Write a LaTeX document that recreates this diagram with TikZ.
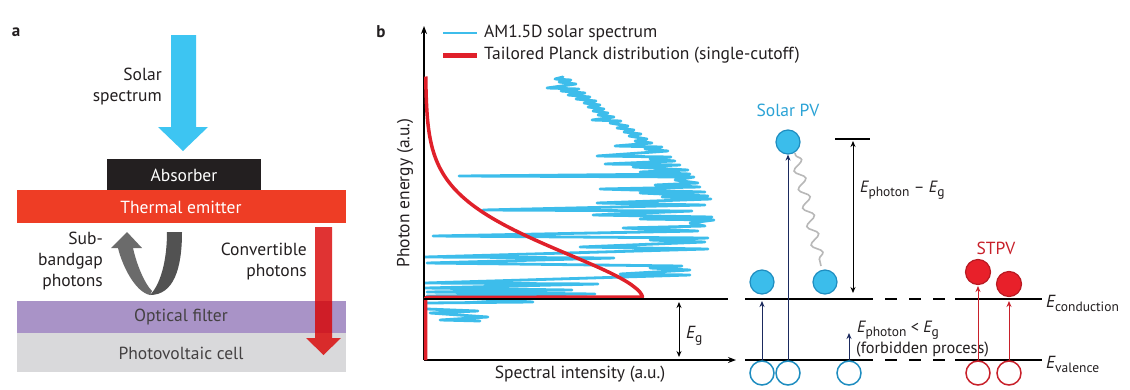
\documentclass[tikz,border=0pt]{standalone}
\usepackage{fontspec}
\setmainfont{PT Sans}
\usetikzlibrary{decorations.pathmorphing,arrows.meta}
\definecolor{txt}{HTML}{231F20}
\definecolor{skyb}{HTML}{3DC5F2}
\definecolor{emit}{HTML}{EE3D25}
\definecolor{filt}{HTML}{A993C7}
\definecolor{pvc}{HTML}{D9D9DB}
\definecolor{specb}{HTML}{3DBDEB}
\definecolor{planckr}{HTML}{E0202A}
\definecolor{navy}{HTML}{1B2A5E}
\definecolor{cfill}{HTML}{3BBDEB}
\definecolor{cedge}{HTML}{1E8DC0}
\definecolor{rfill}{HTML}{E8202A}
\definecolor{redge}{HTML}{B81A22}
\definecolor{pvblue}{HTML}{2BA3D6}
\definecolor{arrred}{HTML}{C8202A}
\newcommand{\lowsub}[1]{\raisebox{-0.45ex}{\fontsize{13.5}{14}\selectfont #1}}
\newcommand{\itE}{{\itshape E}}
\tikzset{
  lbl/.style={font=\fontsize{17.5}{21}\selectfont, text=txt, inner sep=0pt},
  smalllbl/.style={font=\fontsize{16.3}{19}\selectfont, text=txt, inner sep=0pt},
  layertext/.style={font=\fontsize{17.5}{21}\selectfont, inner sep=0pt},
  level/.style={line width=2.5pt, draw=black},
  axis/.style={line width=1.3pt, draw=black, -{Stealth[length=8pt,width=6pt]}},
  dbl/.style={line width=0.9pt, draw=black, {Stealth[length=6pt,width=5pt]}-{Stealth[length=6pt,width=5pt]}},
  navyarr/.style={line width=1pt, draw=navy, -{Stealth[length=6pt,width=5pt]}},
  redarr/.style={line width=1pt, draw=arrred, -{Stealth[length=6pt,width=5pt]}},
  bfull/.style={circle, minimum size=24pt, inner sep=0pt, fill=cfill, draw=cedge, line width=1.2pt},
  bopen/.style={circle, minimum size=24pt, inner sep=0pt, fill=white, draw=cedge, line width=1.5pt},
  rfull/.style={circle, minimum size=25pt, inner sep=0pt, fill=rfill, draw=redge, line width=1.2pt},
  ropen/.style={circle, minimum size=24pt, inner sep=0pt, fill=white, draw=arrred, line width=1.5pt},
  spec/.style={draw=specb, line width=2.8pt, line join=round, line cap=round},
  planck/.style={draw=planckr, line width=3.5pt, line join=round},
}
\begin{document}
\begin{tikzpicture}[x=1pt,y=-1pt]
\useasboundingbox (0,0) rectangle (1130,389);
\fill[white] (0,0) rectangle (1130,389);

% ---------------- panel a ----------------
\node[font=\fontsize{17}{19}\selectfont\bfseries, text=txt, inner sep=0pt] (la) at (16,32) {a};

\fill[skyb] (171,35) -- (196,35) -- (196,127) -- (208,127) -- (183,151) -- (158,127) -- (171,127) -- cycle;
\node[lbl, align=right, anchor=east] (solarspec) at (162,87) {Solar\\spectrum};

\node[fill=txt, minimum width=154pt, minimum height=31pt, inner sep=0pt, anchor=north west] (absorber) at (107,159) {};
\node[layertext, text=white] (abstxt) at (184,175) {Absorber};
\node[fill=emit, minimum width=329pt, minimum height=33pt, inner sep=0pt, anchor=north west] (emitter) at (17,190) {};
\node[layertext, text=white] (emittxt) at (181,207) {Thermal emitter};
\node[fill=filt, minimum width=329pt, minimum height=32pt, inner sep=0pt, anchor=north west] (filter) at (17,301) {};
\node[layertext, text=txt!85] (filttxt) at (181,317) {Optical filter};
\node[fill=pvc, minimum width=329pt, minimum height=39pt, inner sep=0pt, anchor=north west] (cell) at (17,333) {};
\node[layertext, text=txt!85] (celltxt) at (181,353) {Photovoltaic cell};

% U-shaped grey arrow
\fill[black!58] (150,295) .. controls (135,292) and (122,265) .. (118,248) -- (111,248) -- (127,232) -- (142,248) -- (133,248) .. controls (137,266) and (145,284) .. (152,291) -- cycle;
\fill[black!68] (167,232) -- (182,232) .. controls (182,268) and (174,295) .. (150,295) .. controls (160,285) and (167,262) .. (167,232) -- cycle;
\node[lbl, align=right, anchor=east] (subbg) at (103,261) {Sub-\\bandgap\\photons};

% red convertible arrow
\fill[red!85!black, fill opacity=0.8] (315,227) -- (332,227) -- (332,338) -- (341,338) -- (323.5,355) -- (306,338) -- (315,338) -- cycle;
\node[lbl, align=right, anchor=east] (conv) at (307,262) {Convertible\\photons};

% ---------------- panel b ----------------
\node[font=\fontsize{17}{19}\selectfont\bfseries, text=txt, inner sep=0pt] (lb) at (381,32) {b};

\coordinate (origin) at (424,360);
\coordinate (ytop) at (424,26);
\coordinate (xend) at (736,360);

% legend
\coordinate (lg1a) at (443,33); \coordinate (lg1b) at (477,33);
\coordinate (lg2a) at (443,55); \coordinate (lg2b) at (477,55);
\draw[draw=specb, line width=2pt] (lg1a) -- (lg1b);
\draw[draw=planckr, line width=5pt] (lg2a) -- (lg2b);
\node[lbl, anchor=west] (leg1) at (484,33) {AM1.5D solar spectrum};
\node[lbl, anchor=west] (leg2) at (484,55) {Tailored Planck distribution (single-cutoff)};

% solar spectrum
\draw[spec] plot coordinates {(563,77) (555,79) (571,80) (559,82) (576,84) (547,88) (579,89) (561,91) (585,93) (568,95) (590,97) (576,99) (596,101) (584,103) (600,105) (588,107) (604,109) (593,111) (608,113) (598,115) (614,117) (592,120) (621,121) (610,123) (628,126) (617,128) (634,130) (624,132) (641,134) (629,136) (647,139) (635,141) (652,143) (615,146) (662,147) (645,149) (668,151) (597,156) (671,157) (650,159) (675,161) (605,164) (680,165) (633,167) (688,170) (640,172) (690,174) (459,176) (694,177) (675,180) (698,183) (655,185) (700,187) (600,189) (705,192) (640,193) (708,196) (662,197) (711,199) (597,203) (705,205) (483,210) (692,211) (593,215) (712,217) (640,219) (714,220) (690,223) (705,226) (623,228) (698,231) (433,236) (708,238) (650,240) (705,242) (580,247) (708,249) (425,257) (614,258) (427,263) (682,266) (650,268) (690,270) (620,274) (690,275) (425,283) (598,284) (425,288) (572,290) (427,292) (595,294) (427,296) (533,302) (427,303)};
\draw[spec] plot coordinates {(427,309) (478,311) (430,313) (488,317) (440,320) (480,321)};

% axes
\draw[axis] (origin) -- (ytop);
\draw[axis] (origin) -- (xend);
\node[lbl, rotate=90] (ylab) at (405,193) {Photon energy (a.u.)};
\node[lbl] (xlab) at (580,374) {Spectral intensity (a.u.)};

% Planck curve
\draw[planck] plot[domain=221:0.5, samples=90, smooth] ({425.5+217*exp(-((\x/72)^1.7))}, {297.5-\x}) -- (425.5,297.5) -- (425.5,360);

% conduction / valence lines
\coordinate (cl0) at (424,299); \coordinate (cl1) at (728,299);
\draw[level] (cl0) -- (cl1);
\coordinate (c2a) at (745,299); \coordinate (c2b) at (873,299);
\coordinate (c3a) at (955,299); \coordinate (c3b) at (1042,299);
\coordinate (v2a) at (745,360); \coordinate (v2b) at (873,360);
\coordinate (v3a) at (955,360); \coordinate (v3b) at (1042,360);
\draw[level] (c2a) -- (c2b);
\draw[level, dash pattern=on 12pt off 12pt] (885,299) -- (955,299);
\draw[level] (c3a) -- (c3b);
\draw[level] (v2a) -- (v2b);
\draw[level, dash pattern=on 12pt off 12pt] (885,360) -- (955,360);
\draw[level] (v3a) -- (v3b);

% Eg arrow
\coordinate (eg1) at (679,302); \coordinate (eg2) at (679,357);
\draw[dbl] (eg1) -- (eg2);
\node[lbl, anchor=west] (eglab) at (686,336) {\itE\lowsub{g}};

% level labels
\node[lbl, anchor=west] (econd) at (1046,303) {\itE\lowsub{conduction}};
\node[lbl, anchor=west] (evale) at (1046,364) {\itE\lowsub{valence}};

% Solar PV
\node[font=\fontsize{17.5}{19}\selectfont, text=pvblue, inner sep=0pt] (spv) at (788,110) {Solar PV};
\node[bfull] (top) at (788,142) {};
\node[bfull] (cb1) at (762,282) {};
\node[bfull] (cb2) at (825,282) {};
\node[bopen] (vb1) at (762,373) {};
\node[bopen] (vb2) at (788,373) {};
\node[bopen] (vb3) at (849,373) {};
\coordinate (a1e) at (762,301);
\coordinate (a3e) at (849,333);
\draw[navyarr] (vb1.north) -- (a1e);
\draw[navyarr] (vb2.north) -- (top.south);
\draw[navyarr] (vb3.north) -- (a3e);

\coordinate (w1) at (795,153); \coordinate (w2) at (821,266);
\draw[black!28, line width=1.6pt, decorate, decoration={snake, amplitude=5pt, segment length=19pt, pre length=2pt, post length=2pt}] (w1) -- (w2);

\coordinate (tb1) at (835,139); \coordinate (tb2) at (870,139);
\draw[level] (tb1) -- (tb2);
\coordinate (d1) at (853,141); \coordinate (d2) at (853,293);
\draw[dbl] (d1) -- (d2);
\node[smalllbl, anchor=west] (ephg) at (860,190) {\itE\lowsub{photon} -- \itE\lowsub{g}};

\node[smalllbl, anchor=west] (forb1) at (857,330) {\itE\lowsub{photon} < \itE\lowsub{g}};
\node[smalllbl, anchor=west] (forb2) at (856,349) {(forbidden process)};

% STPV
\node[font=\fontsize{17.5}{19}\selectfont, text=arrred, inner sep=0pt] (stpv) at (996,248) {STPV};
\node[ropen] (vr1) at (978,373) {};
\node[ropen] (vr2) at (1009,373) {};
\draw[redarr] (vr1.north) -- (978,286);
\draw[redarr] (vr2.north) -- (1009,301);
\node[rfull] (cr1) at (978,272) {};
\node[rfull] (cr2) at (1009,284) {};
\end{tikzpicture}
\end{document}
